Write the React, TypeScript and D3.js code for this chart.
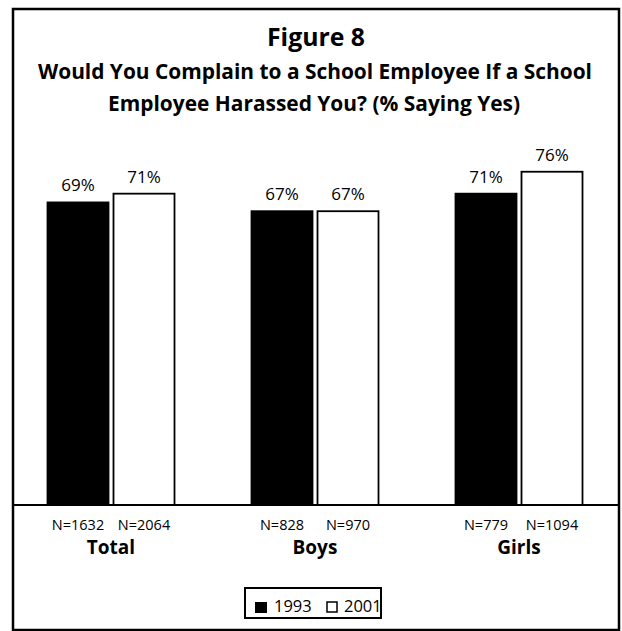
import React from "react";
import * as d3 from "d3";

const categories = ["Total", "Boys", "Girls"];
const series = ["1993", "2001"];
const values1993 = [69, 67, 71];
const values2001 = [71, 67, 76];
const n1993 = ["N=1632", "N=828", "N=779"];
const n2001 = ["N=2064", "N=970", "N=1094"];
const titleLines = [
  "Would You Complain to a School Employee If a School",
  "Employee Harassed You? (% Saying Yes)",
];

const W = 622;
const H = 631;
const FONT = "'Open Sans', 'DejaVu Sans', sans-serif";

export default function App() {
  const x0 = d3.scaleBand<string>().domain(categories).range([9, 621]).padding(0);
  const x1 = d3
    .scaleBand<string>()
    .domain(series)
    .range([-63.5, 63.5])
    .paddingInner(0.0758)
    .paddingOuter(0);
  const y = d3.scaleLinear().domain([0, 100]).range([505, 66.5]);

  const data = categories.map((c, i) => ({
    cat: c,
    vals: [
      { s: "1993", v: values1993[i], n: n1993[i] },
      { s: "2001", v: values2001[i], n: n2001[i] },
    ],
  }));

  return (
    <svg
      width={W}
      height={H}
      style={{ position: "absolute", left: 0, top: 0, background: "#fff" }}
    >
      <rect x={0} y={0} width={W} height={H} fill="#fff" />
      <rect x={13} y={9} width={606} height={621} fill="none" stroke="#000" strokeWidth={2.5} />
      <text x={316} y={46} textAnchor="middle" fontFamily={FONT} fontWeight="bold" fontSize={25} textLength={98} lengthAdjust="spacingAndGlyphs">
        Figure 8
      </text>
      <text x={315} y={79} textAnchor="middle" fontFamily={FONT} fontWeight="bold" fontSize={21} textLength={554} lengthAdjust="spacingAndGlyphs">
        {titleLines[0]}
      </text>
      <text x={314} y={111} textAnchor="middle" fontFamily={FONT} fontWeight="bold" fontSize={21} textLength={412} lengthAdjust="spacingAndGlyphs">
        {titleLines[1]}
      </text>

      {data.map((g) => {
        const gx = (x0(g.cat) as number) + x0.bandwidth() / 2;
        return (
          <g key={g.cat}>
            {g.vals.map((d) => {
              const bx = gx + (x1(d.s) as number);
              const bw = x1.bandwidth();
              return (
                <g key={d.s}>
                  <rect
                    x={bx}
                    y={y(d.v)}
                    width={bw}
                    height={y(0) - y(d.v)}
                    fill={d.s === "1993" ? "#000" : "#fff"}
                    stroke="#000"
                    strokeWidth={1.8}
                  />
                  <text x={bx + bw / 2} y={y(d.v) - 11} textAnchor="middle" fontFamily={FONT} fontSize={17}>
                    {d.v}%
                  </text>
                  <text x={bx + bw / 2} y={530} textAnchor="middle" fontFamily={FONT} fontSize={14.5}>
                    {d.n}
                  </text>
                </g>
              );
            })}
            <text x={gx} y={554} textAnchor="middle" fontFamily={FONT} fontWeight="bold" fontSize={19}>
              {g.cat}
            </text>
          </g>
        );
      })}

      <line x1={13} x2={619} y1={y(0)} y2={y(0)} stroke="#000" strokeWidth={2} />

      <rect x={245} y={588} width={136} height={30} fill="#fff" stroke="#000" strokeWidth={2} />
      <rect x={255} y={602} width={12} height={11} fill="#000" />
      <text x={274} y={612} fontFamily={FONT} fontSize={16.5}>{series[0]}</text>
      <rect x={327} y={602} width={10} height={10} fill="#fff" stroke="#000" strokeWidth={1.5} />
      <text x={344} y={612} fontFamily={FONT} fontSize={16.5}>{series[1]}</text>
    </svg>
  );
}
